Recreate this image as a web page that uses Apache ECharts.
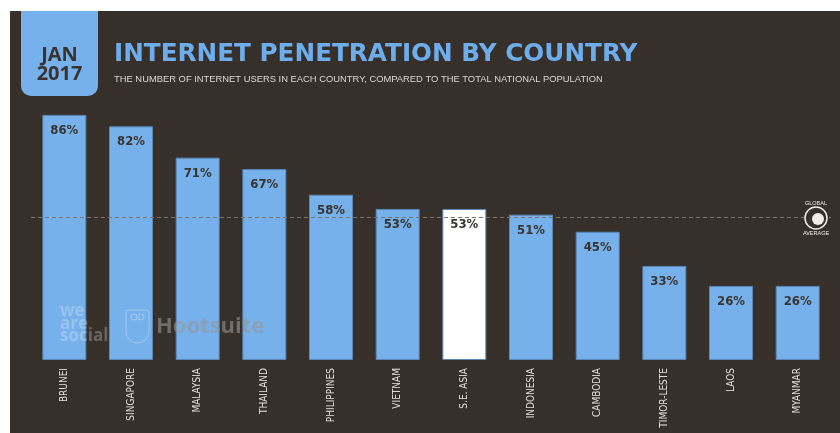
<!DOCTYPE html>
<html>
<head>
<meta charset="utf-8">
<style>
  body { margin: 0; background: #ffffff; }
  #main { position: absolute; left: 10px; top: 11px; width: 830px; height: 422px; }
</style>
</head>
<body>
<div id="main"></div>
<script src="https://cdn.jsdelivr.net/npm/echarts@6/dist/echarts.min.js"></script>
<script type="text/javascript">
    // 数据
    var countries = ['BRUNEI', 'SINGAPORE', 'MALAYSIA', 'THAILAND', 'PHILIPPINES', 'VIETNAM',
        'S.E. ASIA', 'INDONESIA', 'CAMBODIA', 'TIMOR-LESTE', 'LAOS', 'MYANMAR'];
    var penetration = [86, 82, 71, 67, 58, 53, 53, 51, 45, 33, 26, 26];
    var globalAverage = 50;
    var highlight = 'S.E. ASIA';

    var blue = '#76b1eb';
    var dark = '#372f2a';
    var narrow = '"DejaVu Sans Condensed", "Roboto Condensed", Roboto, sans-serif';

    var myChart = echarts.init(document.getElementById('main'));

    var barData = countries.map(function (c, i) {
        return {
            value: penetration[i],
            itemStyle: { color: c === highlight ? '#ffffff' : blue }
        };
    });

    var option = {
        backgroundColor: dark,
        animation: false,
        grid: { left: 21, right: 9, top: 64, bottom: 73, containLabel: false, outerBoundsMode: 'none' },
        xAxis: {
            type: 'category',
            data: countries,
            axisLine: { show: false },
            axisTick: { show: false },
            axisLabel: {
                rotate: 90,
                interval: 0,
                margin: 8,
                color: '#e2dfdc',
                fontFamily: narrow,
                fontSize: 10
            }
        },
        yAxis: {
            type: 'value',
            min: 0,
            max: 100,
            show: false,
            splitLine: { show: false }
        },
        series: [{
            type: 'bar',
            data: barData,
            barWidth: '66%',
            itemStyle: { borderColor: '#5b86b5', borderWidth: 1 },
            label: {
                show: true,
                position: 'insideTop',
                distance: 9,
                formatter: '{c}%',
                color: '#3a342f',
                fontFamily: narrow,
                fontWeight: 'bold',
                fontSize: 13
            },
            markLine: {
                silent: true,
                symbol: 'none',
                label: { show: false },
                lineStyle: { color: '#7a746e', type: [4, 3], width: 1 },
                data: [{ yAxis: globalAverage }]
            }
        }],
        graphic: [
            // 日期框
            {
                type: 'rect',
                shape: { x: 11, y: 0, width: 77, height: 85, r: [0, 0, 10, 10] },
                style: { fill: blue }
            },
            {
                type: 'text', x: 49.5, y: 44,
                style: { text: 'JAN', fill: '#3a332e', font: 'bold 20px "Open Sans"', align: 'center', verticalAlign: 'middle' }
            },
            {
                type: 'text', x: 49.5, y: 63,
                style: { text: '2017', fill: '#3a332e', font: 'bold 20px "Open Sans"', align: 'center', verticalAlign: 'middle' }
            },
            // 标题
            {
                type: 'text', x: 104, y: 44,
                style: { text: 'INTERNET PENETRATION BY COUNTRY', fill: '#6dadec', font: 'bold 24.7px "DejaVu Sans"', verticalAlign: 'middle' }
            },
            {
                type: 'text', x: 104, y: 68,
                style: { text: 'THE NUMBER OF INTERNET USERS IN EACH COUNTRY, COMPARED TO THE TOTAL NATIONAL POPULATION', fill: '#dcd8d4', font: '9.4px "Liberation Sans"', verticalAlign: 'middle' }
            },
            // 水印
            {
                type: 'text', x: 50, y: 294, z: 100,
                style: { text: 'we\nare\nsocial', fill: 'rgba(255,255,255,0.25)', font: 'bold 17px "Open Sans"', lineHeight: 12.5 }
            },
            {
                type: 'rect', z: 100,
                shape: { x: 116, y: 299, width: 23, height: 33, r: [2, 2, 12, 12] },
                style: { fill: 'none', stroke: 'rgba(255,255,255,0.3)', lineWidth: 1 }
            },
            {
                type: 'circle', z: 100,
                shape: { cx: 124, cy: 306, r: 3 },
                style: { fill: 'none', stroke: 'rgba(255,255,255,0.3)', lineWidth: 1 }
            },
            {
                type: 'circle', z: 100,
                shape: { cx: 131, cy: 306, r: 3 },
                style: { fill: 'none', stroke: 'rgba(255,255,255,0.3)', lineWidth: 1 }
            },
            {
                type: 'text', x: 146, y: 316, z: 100,
                style: { text: 'Hootsuite', fill: 'rgba(150,150,150,0.6)', font: 'bold 22px "Open Sans"', verticalAlign: 'middle' }
            },
            // 全球平均
            {
                type: 'circle', z: 100,
                shape: { cx: 806, cy: 207, r: 11 },
                style: { fill: dark, stroke: '#f0ece8', lineWidth: 1.5 }
            },
            {
                type: 'circle', z: 100,
                shape: { cx: 808, cy: 208, r: 6 },
                style: { fill: '#f0ece8' }
            },
            {
                type: 'text', x: 806, y: 192, z: 100,
                style: { text: 'GLOBAL', fill: '#f0ece8', font: '5.5px "Liberation Sans"', align: 'center', verticalAlign: 'middle' }
            },
            {
                type: 'text', x: 806, y: 222, z: 100,
                style: { text: 'AVERAGE', fill: '#f0ece8', font: '5.5px "Liberation Sans"', align: 'center', verticalAlign: 'middle' }
            }
        ]
    };

    myChart.setOption(option);
</script>
</body>
</html>
